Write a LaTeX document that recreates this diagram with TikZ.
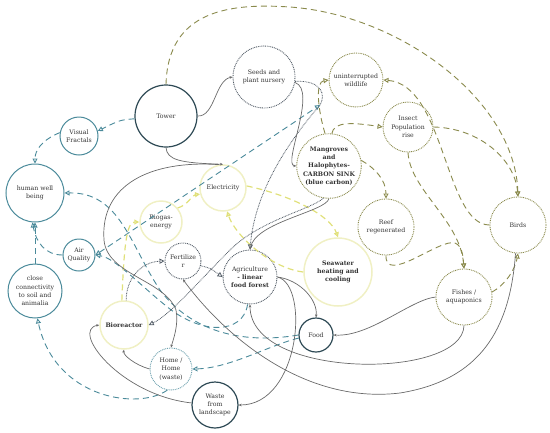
\documentclass[tikz,border=0pt]{standalone}
\usepackage{fontspec}
\setmainfont{DejaVu Serif}
\usetikzlibrary{arrows.meta}
\definecolor{darkc}{HTML}{2E4A55}
\definecolor{tealc}{HTML}{4A8A9A}
\definecolor{olivec}{HTML}{8A8A4C}
\definecolor{palec}{HTML}{F0F0C4}
\definecolor{yelc}{HTML}{E0E07A}
\definecolor{dotc}{HTML}{525C66}
\definecolor{grayc}{HTML}{6A6A6A}
\definecolor{txtc}{HTML}{333333}
\newcommand{\fsz}{\fontsize{6.2}{8.3}\selectfont}
\tikzset{
  base/.style={circle, inner sep=0pt, align=center, font=\fsz, text=txtc},
  thickn/.style={base, draw=darkc, line width=1.2pt},
  tealn/.style={base, draw=tealc, line width=1pt},
  oliven/.style={base, draw=olivec, line width=0.9pt, dash pattern=on 0.9pt off 0.9pt},
  palen/.style={base, draw=palec, line width=1.5pt},
  dotn/.style={base, draw=dotc, line width=0.9pt, dash pattern=on 0.9pt off 0.9pt},
  tealdn/.style={base, draw=tealc!80, line width=0.9pt, dash pattern=on 0.9pt off 0.9pt},
  otip/.style={-{Triangle[open,length=5pt,width=5pt]}},
  tl/.style={draw=tealc, line width=0.9pt, dash pattern=on 6pt off 4pt, otip},
  ol/.style={draw=olivec, line width=0.9pt, dash pattern=on 6pt off 4pt, otip},
  yl/.style={draw=yelc, line width=1.2pt, dash pattern=on 6pt off 4pt, otip},
  dl/.style={draw=dotc, line width=0.8pt, dash pattern=on 0.8pt off 0.8pt, otip},
  gl/.style={draw=grayc, line width=0.7pt, -{Stealth[length=3pt,width=2.6pt]}},
}
\begin{document}
\begin{tikzpicture}[x=1pt,y=-1pt]
\useasboundingbox (0,0) rectangle (550,432);
% nodes
\node[thickn, minimum size=62pt] (Tower) at (166,116) {Tower};
\node[dotn, minimum size=62pt] (Seeds) at (264,77) {Seeds and\\plant nursery};
\node[oliven, minimum size=54pt] (Wild) at (356,80) {uninterrupted\\wildlife};
\node[tealn, minimum size=38pt] (Fract) at (79,136) {Visual\\Fractals};
\node[tealn, minimum size=58pt] (Hwb) at (35,193) {human well\\being};
\node[oliven, minimum size=50pt] (Insect) at (408,127) {Insect\\Population\\rise};
\node[oliven, minimum size=62pt, font=\fsz\bfseries] (Mang) at (329,166) {Mangroves\\and\\Halophytes-\\CARBON SINK\\(blue carbon)};
\node[palen, minimum size=46pt] (Elec) at (223,188) {Electricity};
\node[palen, minimum size=42pt] (Biogas) at (161,222) {Biogas-\\energy};
\node[oliven, minimum size=56pt] (Reef) at (386,227) {Reef\\regenerated};
\node[oliven, minimum size=56pt] (Birds) at (518,225) {Birds};
\node[palen, minimum size=68pt, font=\fsz\bfseries] (Sea) at (338,272) {Seawater\\heating and\\cooling};
\node[tealn, minimum size=32pt] (AirQ) at (79,255) {Air\\Quality};
\node[tealn, minimum size=54pt] (Close) at (35,291) {close\\connectivity\\to soil and\\animalia};
\node[dotn, minimum size=36pt] (Fert) at (183,261) {Fertilize\\r};
\node[dotn, minimum size=54pt] (Agri) at (250,277) {Agriculture\\\textbf{- linear}\\\textbf{food forest}};
\node[palen, minimum size=48pt, font=\fsz\bfseries] (Bio) at (124,325) {Bioreactor};
\node[tealdn, minimum size=42pt] (Home) at (171,369) {Home /\\Home\\(waste)};
\node[thickn, minimum size=46pt] (Waste) at (215,405) {Waste\\from\\landscape};
\node[thickn, minimum size=34pt] (Food) at (316,335) {Food};
\node[oliven, minimum size=56pt] (Fish) at (464,297) {Fishes /\\aquaponics};
\coordinate (p1) at (320,105);
% teal dashed
\draw[tl] (Tower.185) .. controls (120,120) .. (Fract.15);
\draw[tl] (Fract.170) .. controls (42,140) and (35,150) .. (Hwb.north);
\draw[tl] (Close.north) -- (Hwb.south);
\draw[tl] (AirQ.west) .. controls (45,255) and (36,242) .. (Hwb.-95);
\draw[tl] (Food.west) .. controls (240,345) and (190,330) .. (160,290) .. controls (130,245) and (120,192) .. (Hwb.east);
\draw[tl, {Triangle[open,length=5pt,width=5pt]}-{Triangle[open,length=5pt,width=5pt]}] (AirQ.east) -- (p1);
\draw[tl] (Food.190) .. controls (270,345) and (230,368) .. (Home.east);
\draw[tl] (Home.-100) .. controls (140,410) and (55,400) .. (Close.-85);
\draw[tl] (Agri.265) .. controls (243,335) and (200,335) .. (165,305) .. controls (140,285) and (115,258) .. (AirQ.east);
% olive dashed
\draw[ol] (Tower.north) .. controls (168,10) and (230,3) .. (290,7) .. controls (400,15) and (515,100) .. (Birds.north);
\draw[ol] (Mang.97) .. controls (318,110) and (315,82) .. (Wild.west);
\draw[ol] (Mang.85) .. controls (334,122) and (350,122) .. (Insect.west);
\draw[ol] (Insect.east) .. controls (480,128) and (515,160) .. (Birds.north);
\draw[ol] (Insect.south) .. controls (410,190) and (460,220) .. (Fish.north);
\draw[ol] (Birds.west) .. controls (445,225) and (445,85) .. (Wild.east);
\draw[ol] (Mang.10) .. controls (375,168) and (386,180) .. (Reef.north);
\draw[ol] (Reef.south) .. controls (385,285) and (440,238) .. (455,243) .. controls (462,246) and (463,255) .. (Fish.north);
\draw[ol] (Fish.10) .. controls (505,285) and (515,270) .. (Birds.south);
% yellow dashed
\draw[yl] (Bio.95) .. controls (124,250) and (126,222) .. (Biogas.west);
\draw[yl] (Biogas.40) .. controls (188,205) and (192,195) .. (Elec.195);
\draw[yl] (Elec.5) .. controls (290,195) and (330,215) .. (Sea.north);
\draw[yl] (Sea.west) .. controls (270,268) and (235,235) .. (Elec.-80);
% dotted
\draw[dl] (Seeds.-8) .. controls (322,80) and (326,95) .. (p1) .. controls (290,140) and (255,190) .. (Agri.north);
\draw[dl] (Mang.-100) .. controls (310,210) and (260,220) .. (230,250) .. controls (200,280) and (170,315) .. (Bio.east);
\draw[dl] (Bio.85) .. controls (126,280) and (140,262) .. (Fert.west);
\draw[dl] (Fert.-15) .. controls (210,268) .. (Agri.west);
% gray solid
\draw[gl] (Tower.south) .. controls (167,160) and (180,163) .. (Elec.north);
\draw[gl] (Tower.east) .. controls (215,117) and (215,80) .. (Seeds.west);
\draw[gl] (Seeds.-10) .. controls (318,90) and (282,165) .. (Mang.west);
\draw[gl] (Mang.-90) .. controls (325,212) and (255,222) .. (Agri.north);
\draw[gl] (Elec.100) .. controls (150,160) and (100,185) .. (104,240) .. controls (107,275) and (165,280) .. (176,310) .. controls (179,325) and (173,340) .. (Home.north);
\draw[gl] (Home.west) .. controls (135,365) and (123,355) .. (Bio.south);
\draw[gl] (Waste.175) .. controls (120,395) and (70,330) .. (Bio.west);
\draw[gl] (Agri.east) .. controls (300,280) and (318,300) .. (Food.north);
\draw[gl] (Agri.east) .. controls (310,285) and (300,405) .. (Waste.east);
\draw[gl] (Fish.west) .. controls (410,300) and (370,337) .. (Food.east);
\draw[gl] (Fish.south) .. controls (463,380) and (250,380) .. (Agri.south);
\draw[gl] (Birds.-95) .. controls (510,330) and (480,380) .. (400,393) .. controls (300,405) and (220,330) .. (Fert.south);
\end{tikzpicture}
\end{document}
